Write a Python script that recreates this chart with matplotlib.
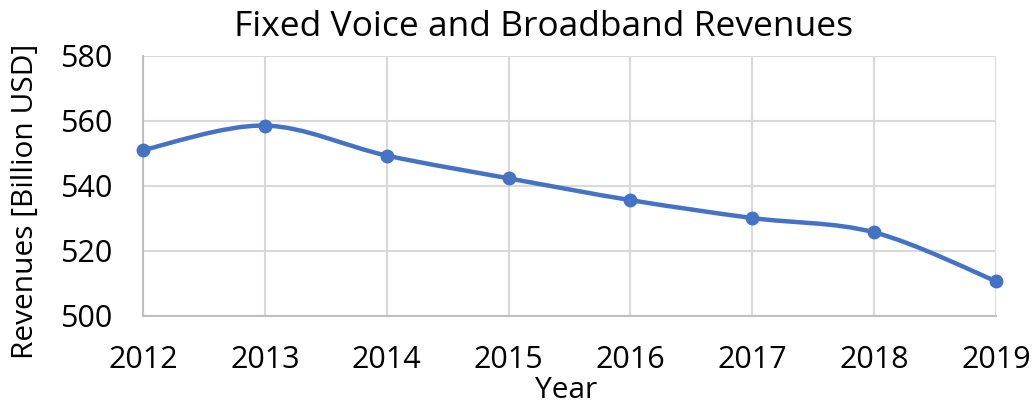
import matplotlib.pyplot as plt
import numpy as np
from matplotlib.path import Path
from matplotlib.patches import PathPatch

plt.rcParams['font.family'] = ['Open Sans', 'DejaVu Sans']

years = [2012, 2013, 2014, 2015, 2016, 2017, 2018, 2019]
revenues = [551.0, 558.5, 549.3, 542.3, 535.6, 530.1, 525.7, 510.7]
y_ticks = [500, 520, 540, 560, 580]

line_color = '#4472C4'
grid_color = '#D9D9D9'


def smooth_path(x, y, t=1 / 6):
    # Excel-style smoothed line: cubic bezier through every point
    x = np.asarray(x, float)
    y = np.asarray(y, float)
    n = len(x)
    verts = [(x[0], y[0])]
    codes = [Path.MOVETO]
    for i in range(n - 1):
        i0 = max(i - 1, 0)
        i3 = min(i + 2, n - 1)
        c1 = (x[i] + (x[i + 1] - x[i0]) * t, y[i] + (y[i + 1] - y[i0]) * t)
        c2 = (x[i + 1] - (x[i3] - x[i]) * t, y[i + 1] - (y[i3] - y[i]) * t)
        verts += [c1, c2, (x[i + 1], y[i + 1])]
        codes += [Path.CURVE4] * 3
    return Path(verts, codes)


W, H = 1034, 403
fig = plt.figure(figsize=(W / 100, H / 100), dpi=100)
ax = fig.add_axes([143 / W, 1 - 316 / H, (996 - 143) / W, (316 - 55.6) / H])

ax.add_patch(PathPatch(smooth_path(years, revenues), fill=False,
                       edgecolor=line_color, linewidth=3.2, capstyle='round', zorder=3))
ax.plot(years, revenues, 'o', color=line_color, markersize=9, zorder=4, clip_on=False)

ax.set_xlim(2012, 2019)
ax.set_ylim(500, 580)
ax.set_xticks(years)
ax.set_yticks(y_ticks)
ax.grid(color=grid_color, linewidth=1.5)
ax.set_axisbelow(True)
for s in ax.spines.values():
    s.set_visible(False)
for side in ['left', 'bottom']:
    ax.spines[side].set_visible(True)
    ax.spines[side].set_color('#BFBFBF')
    ax.spines[side].set_linewidth(1.5)
ax.tick_params(length=0, labelsize=22, labelcolor='black')
ax.tick_params(axis='y', pad=22)
ax.tick_params(axis='x', pad=21)

fig.text(544 / W, 1 - 27 / H, 'Fixed Voice and Broadband Revenues',
         fontsize=25.5, ha='center', va='center')
ax.set_xlabel('Year', fontsize=21.5, va='center')
ax.xaxis.set_label_coords((566 - 143) / 853, (316 - 390) / 260.4)
ax.set_ylabel('Revenues [Billion USD]', fontsize=21.5, va='center')
ax.yaxis.set_label_coords((26 - 143) / 853, (316 - 201) / 260.4)

fig.savefig('out.png', dpi=100)
